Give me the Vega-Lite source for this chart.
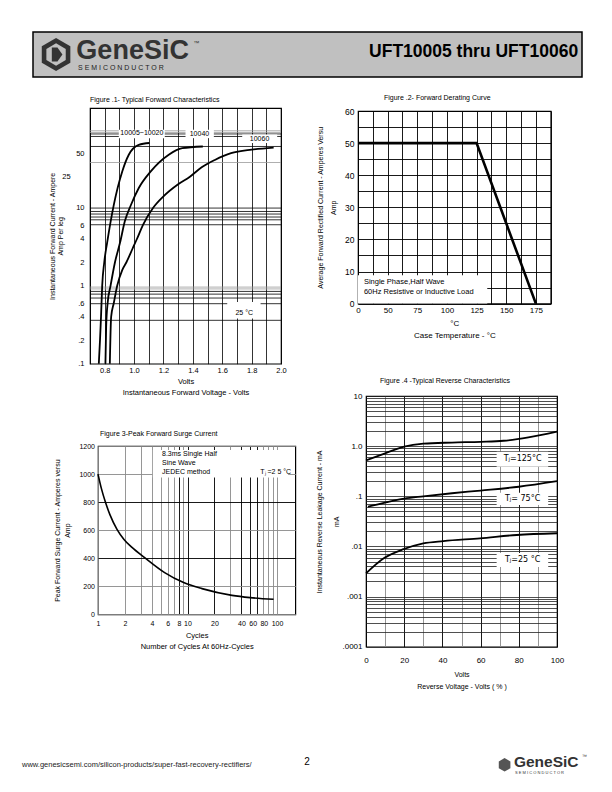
{
  "$schema": "https://vega.github.io/schema/vega-lite/v6.json",
  "autosize": {"type": "none"},
  "padding": {"left": 33, "top": 32, "right": 579, "bottom": 760},
  "background": "white",
  "spacing": 0,
  "bounds": "flush",
  "datasets": {
    "fig1_curves": [
      {"s":"A","V":0.76,"I":0.1},{"s":"A","V":0.768,"I":0.2},{"s":"A","V":0.775,"I":0.4},{"s":"A","V":0.783,"I":1},{"s":"A","V":0.797,"I":2},{"s":"A","V":0.817,"I":3.6},{"s":"A","V":0.862,"I":10.9},{"s":"A","V":0.919,"I":29},{"s":"A","V":0.964,"I":47.8},{"s":"A","V":1.032,"I":64},{"s":"A","V":1.105,"I":67.6},
      {"s":"B","V":0.805,"I":0.1},{"s":"B","V":0.81,"I":0.3},{"s":"B","V":0.82,"I":0.6},{"s":"B","V":0.84,"I":1},{"s":"B","V":0.87,"I":2},{"s":"B","V":0.905,"I":3.6},{"s":"B","V":0.937,"I":6.7},{"s":"B","V":0.98,"I":11},{"s":"B","V":1.032,"I":17.9},{"s":"B","V":1.112,"I":29},{"s":"B","V":1.236,"I":47.8},{"s":"B","V":1.328,"I":58},{"s":"B","V":1.468,"I":61},
      {"s":"C","V":0.835,"I":0.1},{"s":"C","V":0.844,"I":0.4},{"s":"C","V":0.862,"I":0.6},{"s":"C","V":0.885,"I":1},{"s":"C","V":0.92,"I":1.6},{"s":"C","V":0.948,"I":2},{"s":"C","V":0.99,"I":3},{"s":"C","V":1.02,"I":4},{"s":"C","V":1.06,"I":6},{"s":"C","V":1.13,"I":10},{"s":"C","V":1.2,"I":14},{"s":"C","V":1.3,"I":20},{"s":"C","V":1.38,"I":25},{"s":"C","V":1.46,"I":33},{"s":"C","V":1.55,"I":41},{"s":"C","V":1.66,"I":50},{"s":"C","V":1.8,"I":55.5},{"s":"C","V":1.95,"I":59}
    ],
    "fig1_hgrid": [
      {"I":0.36,"k":"b"},{"I":0.588,"k":"b"},{"I":0.695,"k":"b"},{"I":0.78,"k":"b"},{"I":0.845,"k":"b"},{"I":0.91,"k":"g"},{"I":0.96,"k":"g"},
      {"I":6.05,"k":"b"},{"I":7.0,"k":"b"},{"I":7.6,"k":"b"},{"I":8.3,"k":"b"},{"I":8.95,"k":"b"},{"I":9.9,"k":"b"},
      {"I":38,"k":"g"},{"I":61,"k":"b"},{"I":82,"k":"b"},{"I":88.3,"k":"b"},{"I":92.4,"k":"g"},{"I":97,"k":"g"}
    ],
    "fig1_tags": [
      {"t":"10005~10020","V":1.053,"I":90,"V1":0.896,"V2":1.209,"I1":78,"I2":100},
      {"t":"10040","V":1.445,"I":88,"V1":1.35,"V2":1.543,"I1":78,"I2":100},
      {"t":"10060","V":1.854,"I":75.9,"V1":1.736,"V2":1.974,"I1":67.4,"I2":86.7},
      {"t":"25 °C","V":1.75,"I":0.45,"V1":1.634,"V2":1.861,"I1":0.38,"I2":0.62}
    ],
    "fig2_curve": [{"T":25,"A":50},{"T":125,"A":50},{"T":175,"A":0}],
    "fig3_curve": [
      {"N":1,"P":1000},{"N":1.094,"P":894},{"N":1.207,"P":802},{"N":1.362,"P":709},{"N":1.63,"P":606},{"N":1.952,"P":534},{"N":2.397,"P":477},{"N":3.32,"P":404},{"N":5.55,"P":297},{"N":9.04,"P":226},{"N":14.5,"P":183},{"N":31.4,"P":135},{"N":50.1,"P":119},{"N":91.5,"P":107}
    ],
    "fig4_curves": [
      {"s":"125","V":0,"I":0.52},{"s":"125","V":10,"I":0.72},{"s":"125","V":20,"I":0.98},{"s":"125","V":30,"I":1.12},{"s":"125","V":45,"I":1.18},{"s":"125","V":60,"I":1.22},{"s":"125","V":72,"I":1.28},{"s":"125","V":85,"I":1.5},{"s":"125","V":100,"I":1.95},
      {"s":"75","V":1,"I":0.062},{"s":"75","V":10,"I":0.075},{"s":"75","V":20,"I":0.09},{"s":"75","V":30,"I":0.1},{"s":"75","V":45,"I":0.115},{"s":"75","V":60,"I":0.13},{"s":"75","V":80,"I":0.155},{"s":"75","V":100,"I":0.2},
      {"s":"25","V":0,"I":0.0029},{"s":"25","V":9.3,"I":0.0058},{"s":"25","V":19.7,"I":0.0088},{"s":"25","V":30,"I":0.0115},{"s":"25","V":40.5,"I":0.0128},{"s":"25","V":59.7,"I":0.0145},{"s":"25","V":78.9,"I":0.0169},{"s":"25","V":100,"I":0.0183}
    ],
    "fig4_tags": [
      {"t":"Tⱼ=125°C","V":82,"I":0.55,"V1":68.4,"V2":95.4,"I1":0.39,"I2":0.77},
      {"t":"Tⱼ= 75°C","V":82,"I":0.088,"V1":68.4,"V2":95.4,"I1":0.067,"I2":0.118},
      {"t":"Tⱼ=25 °C","V":82,"I":0.0053,"V1":68.4,"V2":95.4,"I1":0.0039,"I2":0.0074}
    ]
  },
  "vconcat": [
    {
      "vconcat": [
        {
          "width": 549, "height": 45,
          "view": {"fill": "#c0c0c0", "stroke": "#000", "strokeWidth": 1.5},
          "layer": [
            {"data": {"values": [{"p": "outer"}]},
             "mark": {"type": "point", "shape": "M0,-1L0.866,-0.5L0.866,0.5L0,1L-0.866,0.5L-0.866,-0.5Z", "filled": true, "color": "#333", "size": 1089, "opacity": 1},
             "encoding": {"x": {"datum": 0.042, "type": "quantitative", "scale": {"domain": [0, 1]}, "axis": null},
                          "y": {"datum": 0.5, "type": "quantitative", "scale": {"domain": [0, 1]}, "axis": null}}},
            {"data": {"values": [{"p": "inner"}]},
             "mark": {"type": "point", "shape": "M0,-1L0.866,-0.5L0.866,0.5L0,1L-0.866,0.5L-0.866,-0.5Z", "filled": true, "color": "#c0c0c0", "size": 500, "opacity": 1},
             "encoding": {"x": {"datum": 0.042}, "y": {"datum": 0.5}}},
            {"data": {"values": [{"p": "core"}]},
             "mark": {"type": "point", "shape": "M-0.6,-1L0.2,-1L0.9,0L0.2,1L-0.6,1Z", "filled": true, "color": "#333", "size": 200, "opacity": 1},
             "encoding": {"x": {"datum": 0.042}, "y": {"datum": 0.5}}},
            {"data": {"values": [{"t": "GeneSiC"}]},
             "mark": {"type": "text", "align": "left", "baseline": "middle", "fontSize": 27, "fontWeight": "bold", "color": "#333"},
             "encoding": {"x": {"datum": 0.079}, "y": {"datum": 0.57}, "text": {"field": "t"}}},
            {"data": {"values": [{"t": "™"}]},
             "mark": {"type": "text", "align": "left", "baseline": "middle", "fontSize": 6, "color": "#333"},
             "encoding": {"x": {"datum": 0.292}, "y": {"datum": 0.76}, "text": {"field": "t"}}},
            {"data": {"values": [{"t": "S  E  M  I  C  O  N  D  U  C  T  O  R"}]},
             "mark": {"type": "text", "align": "left", "baseline": "middle", "fontSize": 7, "color": "#222"},
             "encoding": {"x": {"datum": 0.082}, "y": {"datum": 0.2}, "text": {"field": "t"}}},
            {"data": {"values": [{"t": "UFT10005 thru UFT10060"}]},
             "mark": {"type": "text", "align": "right", "baseline": "middle", "fontSize": 17.5, "fontWeight": "bold", "color": "#000"},
             "encoding": {"x": {"datum": 0.993}, "y": {"datum": 0.56}, "text": {"field": "t"}}}
          ]
        }
      ],
      "spacing": 0, "bounds": "flush"
    },
    {
      "hconcat": [
        {"data": {"values": []}, "mark": "point", "width": 56.5, "height": 1},
        {
          "vconcat": [
            {"data": {"values": []}, "mark": "point", "width": 1, "height": 76},
            {
              "width": 191, "height": 255.7,
              "view": {"stroke": "#000", "strokeWidth": 1.2},
              "title": {"text": "Figure .1- Typical Forward Characteristics", "offset": 5, "dx": 0, "color": "#000"},
              "layer": [
                {"data": {"name": "fig1_hgrid"},
                 "mark": {"type": "rule", "strokeWidth": 0.8},
                 "encoding": {
                   "y": {"field": "I", "type": "quantitative",
                         "scale": {"type": "log", "domain": [0.1, 190], "nice": false},
                         "axis": {"values": [0.1, 0.2, 0.4, 0.6, 1, 2, 4, 6, 10, 50], "tickCount": 500, "grid": false, "labelOverlap": false, "labelColor": "#000",
                                  "labelExpr": "datum.value < 1 ? slice(format(datum.value, '~g'), 1) : format(datum.value, '~g')",
                                  "labelPadding": 6, "labelFontSize": 7.5,
                                  "title": ["Instantaneous  Forward  Current - Ampere", "Amp    Per leg"],
                                  "titleLineHeight": 8, "titlePadding": 12, "titleFontSize": 7}},
                   "color": {"field": "k", "type": "nominal", "scale": {"domain": ["b", "g"], "range": ["#000", "#9a9a9a"]}, "legend": null}}},
                {"data": {"name": "fig1_curves"},
                 "mark": {"type": "line", "color": "#000", "strokeWidth": 1.8, "interpolate": "monotone"},
                 "encoding": {
                   "x": {"field": "V", "type": "quantitative",
                         "scale": {"domain": [0.7, 2.0], "nice": false, "zero": false},
                         "axis": {"values": [0.7, 0.8, 0.9, 1.0, 1.1, 1.2, 1.3, 1.4, 1.5, 1.6, 1.7, 1.8, 1.9, 2.0], "tickCount": 500,
                                  "grid": true, "gridColor": "#000", "gridWidth": 0.8, "labelOverlap": false, "labelColor": "#000",
                                  "labelExpr": "indexof([0.8, 1, 1.2, 1.4, 1.6, 1.8, 2], datum.value) >= 0 ? format(datum.value, '.1f') : ''",
                                  "labelPadding": 3, "labelFontSize": 7.5,
                                  "title": ["Volts", "Instantaneous  Forward Voltage - Volts"],
                                  "titleLineHeight": 11, "titlePadding": 3, "titleFontSize": 7.5}},
                   "y": {"field": "I", "type": "quantitative", "scale": {"type": "log", "domain": [0.1, 190], "nice": false}},
                   "detail": {"field": "s"}}},
                {"data": {"name": "fig1_tags"},
                 "mark": {"type": "rect", "fill": "white"},
                 "encoding": {"x": {"field": "V1", "type": "quantitative"}, "x2": {"field": "V2"},
                              "y": {"field": "I1", "type": "quantitative"}, "y2": {"field": "I2"}}},
                {"data": {"name": "fig1_tags"},
                 "mark": {"type": "text", "fontSize": 7},
                 "encoding": {"x": {"field": "V", "type": "quantitative"}, "y": {"field": "I", "type": "quantitative"}, "text": {"field": "t"}}},
                {"data": {"values": [{"t": "25", "V": 0.54, "I": 25}]},
                 "mark": {"type": "text", "fontSize": 7.5},
                 "encoding": {"x": {"field": "V", "type": "quantitative"}, "y": {"field": "I", "type": "quantitative"}, "text": {"field": "t"}}}
              ]
            }
          ],
          "spacing": 0, "bounds": "flush"
        }
      ],
      "spacing": 0, "bounds": "flush"
    },
    {
      "hconcat": [
        {"data": {"values": []}, "mark": "point", "width": 324.3, "height": 1},
        {
          "vconcat": [
            {"data": {"values": []}, "mark": "point", "width": 1, "height": 78.7},
            {
              "width": 192.7, "height": 192.6,
              "view": {"stroke": "#000", "strokeWidth": 1.2},
              "title": {"text": "Figure .2- Forward Derating Curve", "offset": 6.3, "dx": 26, "color": "#000"},
              "layer": [
                {"data": {"name": "fig2_curve"},
                 "mark": {"type": "line", "color": "#000", "strokeWidth": 2.6},
                 "encoding": {
                   "x": {"field": "T", "type": "quantitative",
                         "scale": {"domain": [25, 187.5], "nice": false, "zero": false},
                         "axis": {"values": [25, 37.5, 50, 62.5, 75, 87.5, 100, 112.5, 125, 137.5, 150, 162.5, 175, 187.5], "tickCount": 500,
                                  "grid": true, "gridColor": "#000", "gridWidth": 0.9, "labelOverlap": false, "labelColor": "#000",
                                  "labelExpr": "datum.value == 25 ? '0' : (datum.value % 25 == 0 ? format(datum.value, 'd') : '')",
                                  "labelPadding": 3, "labelFontSize": 8,
                                  "title": ["°C", "Case Temperature  - °C"],
                                  "titleLineHeight": 12, "titlePadding": 5, "titleFontSize": 8}},
                   "y": {"field": "A", "type": "quantitative",
                         "scale": {"domain": [0, 60], "nice": false},
                         "axis": {"values": [0, 5, 10, 15, 20, 25, 30, 35, 40, 45, 50, 55, 60], "tickCount": 500,
                                  "grid": true, "gridColor": "#000", "gridWidth": 0.9, "labelOverlap": false, "labelColor": "#000",
                                  "labelExpr": "datum.value % 10 == 0 ? format(datum.value, 'd') : ''",
                                  "labelPadding": 4, "labelFontSize": 8.5,
                                  "title": ["Average Forward Rectified Current - Amperes Versu", "Amp"],
                                  "titleLineHeight": 13, "titlePadding": 8, "titleFontSize": 7}}}},
                {"data": {"values": [{"T1": 25, "T2": 134, "A1": 0, "A2": 8.8}]},
                 "mark": {"type": "rect", "fill": "white"},
                 "encoding": {"x": {"field": "T1", "type": "quantitative"}, "x2": {"field": "T2"},
                              "y": {"field": "A1", "type": "quantitative"}, "y2": {"field": "A2"}}},
                {"data": {"values": [{"t": "Single Phase,Half Wave", "T": 30, "A": 6.6}, {"t": "60Hz Resistive or Inductive Load", "T": 30, "A": 3.5}]},
                 "mark": {"type": "text", "align": "left", "fontSize": 7.5},
                 "encoding": {"x": {"field": "T", "type": "quantitative"}, "y": {"field": "A", "type": "quantitative"}, "text": {"field": "t"}}}
              ]
            }
          ],
          "spacing": 0, "bounds": "flush"
        }
      ],
      "spacing": 0, "bounds": "flush"
    },
    {
      "hconcat": [
        {"data": {"values": []}, "mark": "point", "width": 64.7, "height": 1},
        {
          "vconcat": [
            {"data": {"values": []}, "mark": "point", "width": 1, "height": 414},
            {
              "width": 197.3, "height": 168.3,
              "view": {"stroke": "#000", "strokeWidth": 1.2},
              "title": {"text": "Figure 3-Peak Forward Surge Current", "offset": 5.3, "dx": 2, "color": "#000"},
              "layer": [
                {"data": {"name": "fig3_curve"},
                 "mark": {"type": "line", "color": "#000", "strokeWidth": 1.6, "interpolate": "monotone"},
                 "encoding": {
                   "x": {"field": "N", "type": "quantitative",
                         "scale": {"type": "log", "domain": [1, 160], "nice": false},
                         "axis": {"values": [1, 2, 3, 4, 5, 6, 7, 8, 9, 10, 20, 30, 40, 50, 60, 70, 80, 90, 100], "tickCount": 500,
                                  "grid": true, "gridWidth": 0.9, "labelOverlap": false, "labelColor": "#000",
                                  "gridColor": {"condition": {"test": "indexof([8, 10, 20, 40, 50, 60], datum.value) >= 0", "value": "#000"}, "value": "#8a8a8a"},
                                  "labelOffset": {"condition": {"test": "datum.value == 60 || datum.value == 80", "value": -4.5}, "value": 0},
                                  "labelExpr": "indexof([1, 2, 4, 6, 8, 10, 20, 40, 60, 80, 100], datum.value) >= 0 ? format(datum.value, 'd') : ''",
                                  "labelPadding": 5, "labelFontSize": 7,
                                  "title": ["Cycles", "Number of Cycles At 60Hz-Cycles"],
                                  "titleLineHeight": 11.3, "titlePadding": 5, "titleFontSize": 7.5}},
                   "y": {"field": "P", "type": "quantitative",
                         "scale": {"domain": [0, 1200], "nice": false},
                         "axis": {"values": [0, 200, 400, 600, 800, 1000, 1200], "tickCount": 500,
                                  "grid": true, "gridWidth": 0.9, "labelOverlap": false, "labelColor": "#000", "format": "d",
                                  "gridColor": {"condition": {"test": "datum.value == 400 || datum.value == 800", "value": "#000"}, "value": "#8a8a8a"},
                                  "labelPadding": 3.5, "labelFontSize": 7,
                                  "title": ["Peak Forward Surge Current       - Amperes versu", "Amp"],
                                  "titleLineHeight": 10, "titlePadding": 8, "titleFontSize": 7}}}},
                {"data": {"values": [{"N1": 4.1, "N2": 133, "P1": 975, "P2": 1172}]},
                 "mark": {"type": "rect", "fill": "white"},
                 "encoding": {"x": {"field": "N1", "type": "quantitative"}, "x2": {"field": "N2"},
                              "y": {"field": "P1", "type": "quantitative"}, "y2": {"field": "P2"}}},
                {"data": {"values": [{"t": "8.3ms Single Half", "N": 5.19, "P": 1141}, {"t": "Sine Wave", "N": 5.19, "P": 1082}, {"t": "JEDEC method", "N": 5.19, "P": 1017}, {"t": "Tⱼ =2 5 °C", "N": 65, "P": 1017}]},
                 "mark": {"type": "text", "align": "left", "fontSize": 7},
                 "encoding": {"x": {"field": "N", "type": "quantitative"}, "y": {"field": "P", "type": "quantitative"}, "text": {"field": "t"}}}
              ]
            }
          ],
          "spacing": 0, "bounds": "flush"
        }
      ],
      "spacing": 0, "bounds": "flush"
    },
    {
      "hconcat": [
        {"data": {"values": []}, "mark": "point", "width": 333, "height": 1},
        {
          "vconcat": [
            {"data": {"values": []}, "mark": "point", "width": 1, "height": 364},
            {
              "width": 191, "height": 250.7,
              "view": {"stroke": "#000", "strokeWidth": 1.2},
              "title": {"text": "Figure .4 -Typical Reverse  Characteristics", "offset": 8, "dx": 14, "color": "#000"},
              "layer": [
                {"data": {"name": "fig4_curves"},
                 "mark": {"type": "line", "color": "#000", "strokeWidth": 1.8, "interpolate": "monotone"},
                 "encoding": {
                   "x": {"field": "V", "type": "quantitative",
                         "scale": {"domain": [0, 100], "nice": false},
                         "axis": {"values": [0, 10, 20, 30, 40, 50, 60, 70, 80, 90, 100], "tickCount": 500,
                                  "grid": true, "gridWidth": 0.9, "labelOverlap": false, "labelColor": "#000",
                                  "gridColor": {"condition": {"test": "datum.value % 20 == 0", "value": "#000"}, "value": "#8a8a8a"},
                                  "labelExpr": "datum.value % 20 == 0 ? format(datum.value, 'd') : ''",
                                  "labelPadding": 10, "labelFontSize": 8,
                                  "title": ["Volts", "Reverse  Voltage - Volts ( % )"],
                                  "titleLineHeight": 12, "titlePadding": 6, "titleFontSize": 7}},
                   "y": {"field": "I", "type": "quantitative",
                         "scale": {"type": "log", "domain": [0.0001, 10], "nice": false},
                         "axis": {"values": [0.0001, 0.0002, 0.0003, 0.0004, 0.0005, 0.0006, 0.0007, 0.0008, 0.0009,
                                             0.001, 0.002, 0.003, 0.004, 0.005, 0.006, 0.007, 0.008, 0.009,
                                             0.01, 0.02, 0.03, 0.04, 0.05, 0.06, 0.07, 0.08, 0.09,
                                             0.1, 0.2, 0.3, 0.4, 0.5, 0.6, 0.7, 0.8, 0.9,
                                             1, 2, 3, 4, 5, 6, 7, 8, 9, 10], "tickCount": 500,
                                  "grid": true, "gridWidth": 0.8, "gridColor": "#222", "labelOverlap": false, "labelColor": "#000",
                                  "labelExpr": "datum.value == 10 ? '10' : datum.value == 1 ? '1.0' : datum.value == 0.1 ? '.1' : datum.value == 0.01 ? '.01' : datum.value == 0.001 ? '.001' : datum.value == 0.0001 ? '.0001' : ''",
                                  "labelPadding": 4, "labelFontSize": 8,
                                  "title": ["Instantaneous  Reverse  Leakage  Current - mA", "mA"],
                                  "titleLineHeight": 17, "titlePadding": 2, "titleFontSize": 7}},
                   "detail": {"field": "s"}}},
                {"data": {"name": "fig4_tags"},
                 "mark": {"type": "rect", "fill": "white"},
                 "encoding": {"x": {"field": "V1", "type": "quantitative"}, "x2": {"field": "V2"},
                              "y": {"field": "I1", "type": "quantitative"}, "y2": {"field": "I2"}}},
                {"data": {"name": "fig4_tags"},
                 "mark": {"type": "text", "fontSize": 8, "font": "DejaVu Sans"},
                 "encoding": {"x": {"field": "V", "type": "quantitative"}, "y": {"field": "I", "type": "quantitative"}, "text": {"field": "t"}}}
              ]
            }
          ],
          "spacing": 0, "bounds": "flush"
        }
      ],
      "spacing": 0, "bounds": "flush"
    },
    {
      "vconcat": [
        {"data": {"values": []}, "mark": "point", "width": 1, "height": 668},
        {
          "width": 549, "height": 80,
          "layer": [
            {"data": {"values": [{"t": "www.genesicsemi.com/silicon-products/super-fast-recovery-rectifiers/"}]},
             "mark": {"type": "text", "align": "left", "baseline": "middle", "fontSize": 7.5, "color": "#222"},
             "encoding": {"x": {"datum": -0.02, "type": "quantitative", "scale": {"domain": [0, 1]}, "axis": null},
                          "y": {"datum": 0.19, "type": "quantitative", "scale": {"domain": [0, 1]}, "axis": null},
                          "text": {"field": "t"}}},
            {"data": {"values": [{"t": "2"}]},
             "mark": {"type": "text", "baseline": "middle", "fontSize": 10},
             "encoding": {"x": {"datum": 0.499}, "y": {"datum": 0.225}, "text": {"field": "t"}}},
            {"data": {"values": [{"p": "icon"}]},
             "mark": {"type": "point", "shape": "M0,-1L0.866,-0.5L0.866,0.5L0,1L-0.866,0.5L-0.866,-0.5Z", "filled": true, "color": "#555", "size": 180, "opacity": 1},
             "encoding": {"x": {"datum": 0.859}, "y": {"datum": 0.19}}},
            {"data": {"values": [{"t": "GeneSiC"}]},
             "mark": {"type": "text", "align": "left", "baseline": "middle", "fontSize": 15.5, "fontWeight": "bold", "color": "#333"},
             "encoding": {"x": {"datum": 0.876}, "y": {"datum": 0.23}, "text": {"field": "t"}}},
            {"data": {"values": [{"t": "™"}]},
             "mark": {"type": "text", "align": "left", "baseline": "middle", "fontSize": 5, "color": "#333"},
             "encoding": {"x": {"datum": 1.0}, "y": {"datum": 0.3}, "text": {"field": "t"}}},
            {"data": {"values": [{"t": "S E M I C O N D U C T O R"}]},
             "mark": {"type": "text", "align": "left", "baseline": "middle", "fontSize": 4, "color": "#333"},
             "encoding": {"x": {"datum": 0.878}, "y": {"datum": 0.09}, "text": {"field": "t"}}}
          ]
        }
      ],
      "spacing": 0, "bounds": "flush"
    }
  ],
  "config": {
    "view": {"stroke": null},
    "font": "Liberation Sans",
    "axis": {"labelFont": "Liberation Sans", "labelColor": "#000", "titleFont": "Liberation Sans", "titleFontWeight": "normal", "titleColor": "#000",
             "ticks": false, "domain": false, "gridOpacity": 1, "labelFlush": false, "labelOverlap": false, "labelBound": false},
    "title": {"font": "Liberation Sans", "fontSize": 7, "fontWeight": "normal", "color": "#000", "anchor": "start", "frame": "group"},
    "text": {"font": "Liberation Sans", "color": "#000"}
  }
}
